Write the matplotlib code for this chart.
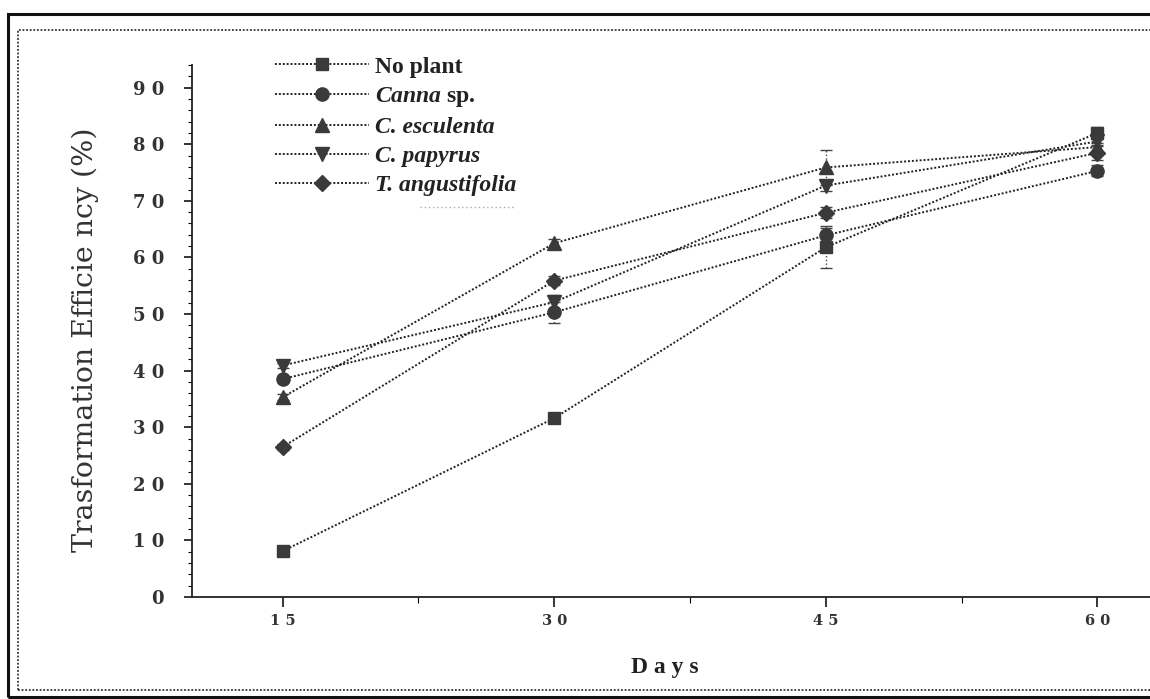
import matplotlib
matplotlib.use("Agg")
import matplotlib.pyplot as plt
from matplotlib.lines import Line2D
from matplotlib.patches import Rectangle
from matplotlib.ticker import MultipleLocator, FixedLocator

plt.rcParams['mathtext.fontset'] = 'custom'
plt.rcParams['mathtext.it'] = 'Liberation Serif:italic:bold'
plt.rcParams['mathtext.rm'] = 'Liberation Serif:bold'

# ___datos
days = [15, 30, 45, 60]
no_plant = [8.1, 31.6, 61.8, 82.0]
canna = [38.5, 50.3, 63.9, 75.3]
esculenta = [35.3, 62.5, 75.9, 79.5]
papyrus = [40.9, 52.1, 72.7, 80.5]
angustifolia = [26.5, 55.9, 67.9, 78.5]

no_plant_err = [0.5, 0.8, 3.7, 1.0]
canna_err = [0.5, 1.9, 1.3, 1.0]
esculenta_err = [0.5, 0.8, 3.1, 0.8]
papyrus_err = [0.5, 1.3, 1.0, 0.8]
angustifolia_err = [0.5, 0.8, 1.0, 1.3]

labels = ['No plant', r'$Canna$ sp.', 'C. esculenta', 'C. papyrus', 'T. angustifolia']
y_ticks = [0, 10, 20, 30, 40, 50, 60, 70, 80, 90]
y_ticklabels = ['0', '1 0', '2 0', '3 0', '4 0', '5 0', '6 0', '7 0', '8 0', '9 0']
x_ticklabels = ['1 5', '3 0', '4 5', '6 0']

series = [no_plant, canna, esculenta, papyrus, angustifolia]
errors = [no_plant_err, canna_err, esculenta_err, papyrus_err, angustifolia_err]
markers = ['s', 'o', '^', 'v', 'D']
msizes = [8.5, 9.5, 10, 10, 8.5]

W, H = 1150, 699
fig = plt.figure(figsize=(11.5, 6.99), dpi=100)
fig.patch.set_facecolor('white')

ax = fig.add_axes([192 / W, 1 - 597 / H, (1150 - 192) / W, 532 / H])
ax.set_xlim(10, 62.9)
ax.set_ylim(0, 94)

line_col = '#222222'
mark_col = '#3a3a3a'
handles = []
for s, e, m, ms, lab in zip(series, errors, markers, msizes, labels):
    eb = ax.errorbar(days, s, yerr=e, fmt='none', ecolor='#444444', elinewidth=1,
                     capsize=4, capthick=1, zorder=2)
    for c in eb[2]:
        c.set_linestyle(':')
    h, = ax.plot(days, s, linestyle=(0, (1, 1)), linewidth=1.4, color=line_col,
                 marker=m, markersize=ms, markerfacecolor=mark_col,
                 markeredgecolor=mark_col, label=lab, zorder=3)
    handles.append(h)

# ___ejes
for side in ['top', 'right']:
    ax.spines[side].set_visible(False)
for side in ['left', 'bottom']:
    ax.spines[side].set_linewidth(1.3)
    ax.spines[side].set_color('#222222')

ax.yaxis.set_major_locator(FixedLocator(y_ticks))
ax.yaxis.set_minor_locator(MultipleLocator(2))
ax.set_yticklabels(y_ticklabels, fontfamily='DejaVu Serif', fontweight='bold',
                   fontsize=13, color='#333333')
ax.xaxis.set_major_locator(FixedLocator(days))
ax.xaxis.set_minor_locator(FixedLocator([22.5, 37.5, 52.5]))
ax.set_xticklabels(x_ticklabels, fontfamily='DejaVu Serif', fontweight='bold',
                   fontsize=10.5, color='#333333')
ax.tick_params(axis='y', which='major', direction='out', length=6, width=1.1, pad=14)
ax.tick_params(axis='y', which='minor', direction='out', length=3, width=0.8)
ax.tick_params(axis='x', which='major', direction='out', length=7, width=1.1, pad=5)
ax.tick_params(axis='x', which='minor', direction='out', length=4, width=0.8)

ax.set_ylabel('Trasformation Efficie ncy (%)', fontfamily='DejaVu Serif',
              fontsize=20.5, color='#333333')
ax.yaxis.set_label_coords((99 - 192) / 958, 1 - (340 - 65) / 532)
ax.set_xlabel('D a y s', fontfamily='Liberation Serif', fontweight='bold',
              fontsize=17, color='#222222')
ax.xaxis.set_label_coords((665 - 192) / 958, -(657 - 597) / 532)

# ___leyenda
leg = ax.legend(handles=handles, loc='upper left',
                bbox_to_anchor=(275 / W, 1 - 56 / H), bbox_transform=fig.transFigure,
                frameon=False, numpoints=1, handlelength=4.0, handletextpad=0.25,
                labelspacing=0.32, borderpad=0, borderaxespad=0,
                prop={'family': 'Liberation Serif', 'weight': 'bold', 'size': 17})
for i, t in enumerate(leg.get_texts()):
    t.set_color('#222222')
    if i >= 2:
        t.set_fontstyle('italic')

# linea punteada tenue bajo la leyenda
fig.add_artist(Line2D([420 / W, 515 / W], [1 - 207 / H, 1 - 207 / H],
                      transform=fig.transFigure, color='#aaaaaa',
                      linestyle=(0, (1, 2)), linewidth=1))

# ___marcos de la figura
fig.add_artist(Rectangle((8 / W, 1 - 697 / H), 1.2, (697 - 14) / H,
                         transform=fig.transFigure, fill=False,
                         edgecolor='#111111', linewidth=2.2))
fig.add_artist(Rectangle((18 / W, 1 - 690 / H), 1.2, (690 - 30) / H,
                         transform=fig.transFigure, fill=False,
                         edgecolor='#333333', linewidth=1.3, linestyle=(0, (1, 1))))

fig.savefig('out.png', dpi=100, facecolor='white')
